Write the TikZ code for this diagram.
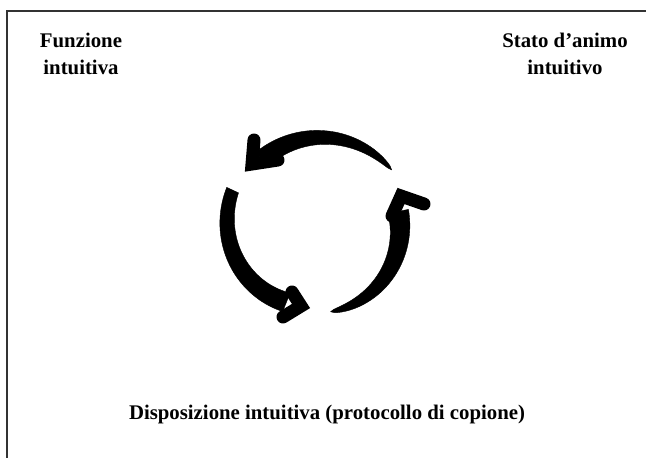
\documentclass[tikz,border=0pt]{standalone}
\usepackage{fontspec}
\setmainfont{Liberation Serif}
\begin{document}
\begin{tikzpicture}[x=1pt,y=-1pt,
  lbl/.style={font=\bfseries\fontsize{20.8}{27}\selectfont, align=center, inner sep=0pt, anchor=base},
  brush/.style={fill=black, draw=black, line width=0.4pt},
  chev/.style={draw=black, line width=13pt, line join=miter, miter limit=10, line cap=round}]
\useasboundingbox (0,0) rectangle (646,458);
\draw[line width=1.3pt, black!80] (646,11) -- (7,11) -- (7,458);

\node[lbl] (fi) at (81,74) {Funzione\\intuitiva};
\node[lbl] (sa) at (565,74) {Stato d’animo\\intuitivo};
\node[lbl] (di) at (327,419) {Disposizione intuitiva (protocollo di copione)};

% centre of the cycle
\coordinate (c) at (316,229);

% top arrow: tail at right (thin), head at left
\fill[brush] plot[domain=-38:-128, samples=40]
   ({316+(88+8*(1-(-38-\x)/90)+ 9.5*sqrt((-38-\x)/90))*cos(\x)},
    {229+(88+8*(1-(-38-\x)/90)+ 9.5*sqrt((-38-\x)/90))*sin(\x)})
 -- plot[domain=-128:-38, samples=40]
   ({316+(88+8*(1-(-38-\x)/90)- 9.5*sqrt((-38-\x)/90))*cos(\x)},
    {229+(88+8*(1-(-38-\x)/90)- 9.5*sqrt((-38-\x)/90))*sin(\x)}) -- cycle;
\coordinate (ta1) at (254,140);
\coordinate (ta0) at (252,164);
\coordinate (ta2) at (278,160);
\draw[chev] (ta1) -- (ta0) -- (ta2);

% left arrow: blunt tail at top, head at bottom
\fill[brush] plot[domain=205:112, samples=40]
   ({316+(92-13*(205-\x)/93+ (6.5+3.5*(205-\x)/93))*cos(\x)},
    {229+(92-13*(205-\x)/93+ (6.5+3.5*(205-\x)/93))*sin(\x)})
 -- plot[domain=112:205, samples=40]
   ({316+(92-13*(205-\x)/93- (6.5+3.5*(205-\x)/93))*cos(\x)},
    {229+(92-13*(205-\x)/93- (6.5+3.5*(205-\x)/93))*sin(\x)}) -- cycle;
\coordinate (la1) at (292,292);
\coordinate (la0) at (301,306);
\coordinate (la2) at (283,317);
\draw[chev] (la1) -- (la0) -- (la2);

% right arrow: thin tail at bottom, head at top
\fill[brush] plot[domain=80:-12, samples=40]
   ({316+(84+ 10.5*sqrt((80-\x)/92))*cos(\x)},
    {229+(84+ 10.5*sqrt((80-\x)/92))*sin(\x)})
 -- plot[domain=-12:80, samples=40]
   ({316+(84- 10.5*sqrt((80-\x)/92))*cos(\x)},
    {229+(84- 10.5*sqrt((80-\x)/92))*sin(\x)}) -- cycle;
\coordinate (ra1) at (424,204);
\coordinate (ra0) at (401,196);
\coordinate (ra2) at (392,216);
\draw[chev] (ra1) -- (ra0) -- (ra2);
\end{tikzpicture}
\end{document}
